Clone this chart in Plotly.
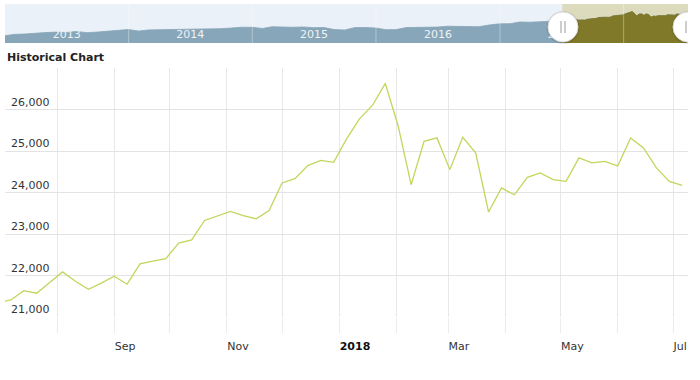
import plotly.graph_objects as go
import pandas as pd

W, H = 700, 380
FONT = "DejaVu Sans"

# ---------------- data ----------------
# weekly closes (Fridays), first point 2017-06-30
week_start = "2017-06-30"
weekly_values = [
    21350, 21410, 21635, 21572, 21830, 22087, 21860, 21669, 21815, 21983,
    21790, 22280, 22345, 22408, 22780, 22860, 23326, 23440, 23543, 23440,
    23367, 23568, 24229, 24333, 24647, 24775, 24727, 25292, 25775, 26097,
    26628, 25597, 24188, 25234, 25316, 24551, 25331, 24954, 23529, 24109,
    23945, 24365, 24471, 24309, 24268, 24833, 24713, 24751, 24640, 25316,
    25075, 24592, 24268, 24171,
]
weekly_dates = pd.date_range(week_start, periods=len(weekly_values), freq="7D")

# navigator history (month-end values) before the weekly window
nav_first_date = "2013-01-01"
nav_first_value = 13100
nav_month_values = [
    13860, 14050, 14580, 14840, 15120, 14910, 15500, 14810, 15130, 15550, 16090, 16580,
    15700, 16320, 16460, 16580, 16720, 16830, 16560, 17100, 17040, 17390, 17830, 17820,
    17160, 18130, 17780, 17840, 18010, 17620, 17690, 16530, 16280, 17660, 17720, 17430,
    16470, 16520, 17690, 17770, 17790, 17930, 18430, 18400, 18310, 18140, 19120, 19760,
    19860, 20810, 20660, 20940, 21010,
]
nav_month_dates = pd.date_range("2013-01-31", periods=len(nav_month_values),
                                freq=pd.offsets.MonthEnd())

# axes settings
main_range = ["2017-07-03 19:00", "2018-07-09 03:00"]
nav_range = ["2013-01-01", "2018-07-10"]
y_ticks = [21000, 22000, 23000, 24000, 25000, 26000, 27000]
y_labels = ["21,000", "22,000", "23,000", "24,000", "25,000", "26,000", ""]
x_ticks = ["2017-08-01", "2017-09-01", "2017-10-01", "2017-11-01", "2017-12-01",
           "2018-01-01", "2018-02-01", "2018-03-01", "2018-04-01", "2018-05-01",
           "2018-06-01", "2018-07-01"]
x_labels = ["", "Sep", "", "Nov", "", "<b style='color:#111'>2018</b>", "", "Mar", "",
            "May", "", "Jul"]
nav_year_label_pos = ["2013-07-02", "2014-07-02", "2015-07-02", "2016-07-02", "2017-07-02"]
nav_year_labels = ["2013", "2014", "2015", "2016", "2017"]
nav_year_lines = ["2014-01-01", "2015-01-01", "2016-01-01", "2017-01-01", "2018-01-01"]

nav_x = [pd.Timestamp(nav_first_date)] + list(nav_month_dates) + list(weekly_dates)
nav_y = [nav_first_value] + nav_month_values + weekly_values


def px(x):
    return x / W


def py(y):
    return 1 - y / H


fig = go.Figure()

fig.add_trace(go.Scatter(
    x=weekly_dates, y=weekly_values, mode="lines",
    line=dict(color="#c0d75c", width=1.3), hoverinfo="skip",
    xaxis="x", yaxis="y", showlegend=False))

fig.add_trace(go.Scatter(
    x=nav_x, y=nav_y, mode="lines", fill="tozeroy",
    line=dict(color="#86a4b7", width=0.8), fillcolor="#88a6b9",
    hoverinfo="skip", xaxis="x2", yaxis="y2", showlegend=False))

fig.add_trace(go.Scatter(
    x=weekly_dates, y=weekly_values, mode="lines", fill="tozeroy",
    line=dict(color="#7f7627", width=0.8), fillcolor="#81792a",
    hoverinfo="skip", xaxis="x2", yaxis="y2", showlegend=False))

shapes = []
# navigator backgrounds
shapes.append(dict(type="rect", xref="x2 domain", yref="y2 domain", x0=0, x1=1, y0=0, y1=1,
                   fillcolor="#eaf1f8", line=dict(width=0), layer="below"))
shapes.append(dict(type="rect", xref="x2", yref="y2 domain", x0=main_range[0], x1=nav_range[1],
                   y0=0, y1=1, fillcolor="#dddbbd", line=dict(width=0), layer="below"))
for d in nav_year_lines:
    shapes.append(dict(type="line", xref="x2", yref="y2 domain", x0=d, x1=d, y0=0, y1=1,
                       line=dict(color="rgba(255,255,255,0.35)", width=1), layer="above"))

# handles
for cx in (563, 688):
    r = 15
    cy = 27
    shapes.append(dict(type="circle", xref="paper", yref="paper",
                       x0=px(cx - r - 1.5), x1=px(cx + r + 1.5), y0=py(cy + r + 2), y1=py(cy - r - 1),
                       fillcolor="rgba(0,0,0,0.10)", line=dict(width=0), layer="above"))
    shapes.append(dict(type="circle", xref="paper", yref="paper",
                       x0=px(cx - r), x1=px(cx + r), y0=py(cy + r), y1=py(cy - r),
                       fillcolor="#ffffff", line=dict(color="#dddddd", width=1), layer="above"))
    for gx in (cx - 2, cx + 2):
        shapes.append(dict(type="line", xref="paper", yref="paper",
                           x0=px(gx), x1=px(gx), y0=py(cy - 6), y1=py(cy + 6),
                           line=dict(color="#9a9a9a", width=1), layer="above"))
# right-side clip of the container
shapes.append(dict(type="rect", xref="paper", yref="paper", x0=px(688), x1=1, y0=0, y1=1,
                   fillcolor="#ffffff", line=dict(width=0), layer="above"))

fig.update_layout(
    width=W, height=H, margin=dict(l=0, r=0, t=0, b=0),
    paper_bgcolor="#ffffff", plot_bgcolor="rgba(0,0,0,0)",
    font=dict(family=FONT, size=11, color="#333333"),
    showlegend=False, hovermode=False,
    xaxis=dict(domain=[px(5), px(688)], anchor="y", type="date", range=main_range,
               tickmode="array", tickvals=x_ticks, ticktext=x_labels,
               showgrid=True, gridcolor="#e8e8e8", gridwidth=1,
               ticks="outside", ticklen=15, tickcolor="#ececec", tickwidth=1,
               ticklabelposition="outside right", ticklabelstandoff=19,
               tickfont=dict(family=FONT, size=11, color="#333333"),
               showline=False, zeroline=False, fixedrange=True),
    yaxis=dict(domain=[py(317), py(68)], anchor="x", range=[21000, 27000],
               tickmode="array", tickvals=y_ticks, ticktext=y_labels,
               showgrid=True, gridcolor="#e3e3e3", gridwidth=1,
               ticks="", ticklabelposition="inside top", ticklabelstandoff=3,
               tickfont=dict(family=FONT, size=11, color="#333333"),
               showline=False, zeroline=False, fixedrange=True),
    xaxis2=dict(domain=[px(5), px(688)], anchor="y2", type="date", range=nav_range,
                tickmode="array", tickvals=nav_year_label_pos, ticktext=nav_year_labels,
                ticklabelposition="inside", ticks="", showgrid=False, showline=False,
                zeroline=False, tickfont=dict(family=FONT, size=11, color="#eef3f6"),
                fixedrange=True),
    yaxis2=dict(domain=[py(43), py(4)], anchor="x2", range=[9000, 30900],
                showgrid=False, showticklabels=False, ticks="", showline=False,
                zeroline=False, fixedrange=True),
    shapes=shapes,
    annotations=[dict(text="<b>Historical Chart</b>", xref="paper", yref="paper",
                      x=px(5), y=py(57), xanchor="left", yanchor="middle", showarrow=False,
                      font=dict(family=FONT, size=11, color="#222222"))],
)

fig.write_html("out.html", config={"displayModeBar": False},
               post_script="document.body.style.margin='0';")
